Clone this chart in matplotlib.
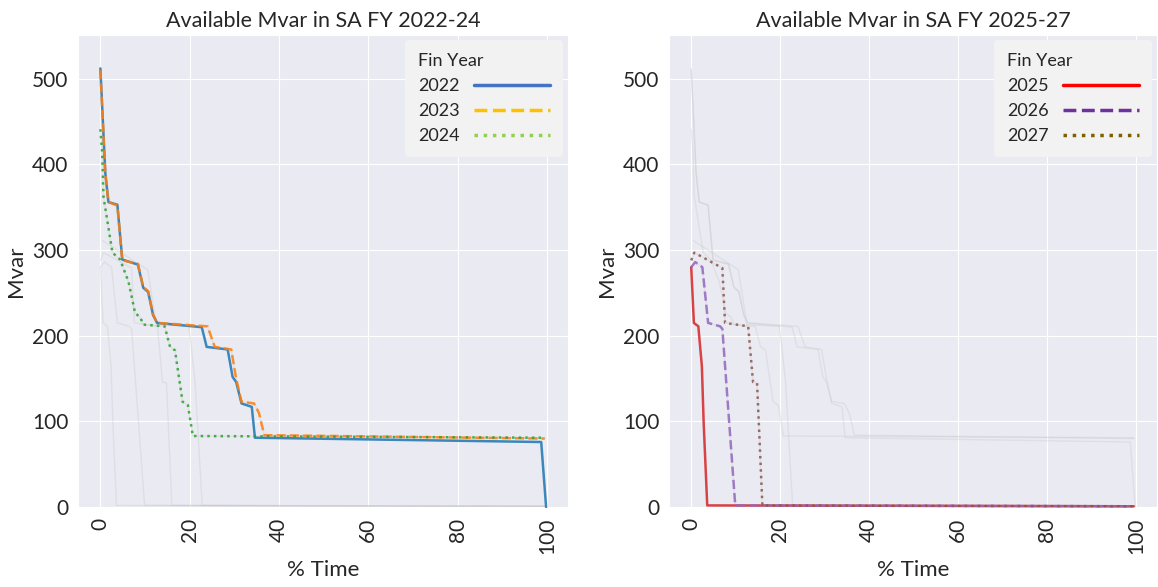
import matplotlib.pyplot as plt
import seaborn as sns
from matplotlib.lines import Line2D

# duration curves: % of time vs available Mvar, per financial year
pct_2022 = [0, 1.1, 1.8, 3.8, 4.9, 8.4, 9.6, 10.7, 11.8, 12.7, 22.7, 23.8, 28.5, 29.6, 30.4, 31.6, 33.9, 34.6, 98.7, 99.8]
mvar_2022 = [512, 390, 356, 353, 289, 283, 256, 251, 224, 215, 210, 187, 184, 152, 146, 121, 117, 81, 76, 0]

pct_2023 = [0, 1.1, 1.8, 3.8, 4.9, 8.4, 9.6, 10.7, 11.8, 12.7, 24.0, 25.6, 29.3, 30.4, 31.6, 34.4, 35.5, 36.7, 99.5]
mvar_2023 = [510, 390, 356, 352, 288, 284, 257, 252, 225, 215, 211, 187, 184, 150, 123, 121, 110, 84, 80]

pct_2024 = [0, 0.4, 0.7, 2.7, 4.4, 6.3, 7.8, 8.9, 9.6, 14.4, 15.6, 16.7, 18.4, 19.6, 20.7, 99.5]
mvar_2024 = [441, 413, 362, 297, 289, 263, 226, 222, 213, 211, 187, 183, 123, 119, 83, 81]

pct_2025 = [0, 0.6, 1.6, 2.4, 2.8, 3.6, 99.5]
mvar_2025 = [280, 215, 211, 164, 98, 2, 1]

pct_2026 = [0, 0.9, 2.5, 3.8, 6.5, 7.0, 9.9, 99.5]
mvar_2026 = [280, 286, 280, 215, 211, 208, 2, 1]

pct_2027 = [0, 0.7, 7.0, 7.6, 12.8, 13.9, 14.8, 16.0, 99.5]
mvar_2027 = [288, 297, 279, 215, 211, 146, 145, 2, 1]

# an extra year that only shows up as a faint background line
pct_other = [0.5, 10.6, 12.5, 19.8, 20.4, 21.2, 22.8, 99.5]
mvar_other = [311, 277, 213, 211, 185, 146, 2, 1]

years_a = ['2022', '2023', '2024']
years_b = ['2025', '2026', '2027']
styles = ['-', '--', ':']
colors_a = ['tab:blue', 'tab:orange', 'tab:green']
colors_b = ['tab:red', 'tab:purple', 'tab:brown']
legend_a = ['#4472C4', '#FFC000', '#92D050']
legend_b = ['#FF0000', '#7030A0', '#7F6000']

curves = {
    '2022': (pct_2022, mvar_2022),
    '2023': (pct_2023, mvar_2023),
    '2024': (pct_2024, mvar_2024),
    '2025': (pct_2025, mvar_2025),
    '2026': (pct_2026, mvar_2026),
    '2027': (pct_2027, mvar_2027),
    'other': (pct_other, mvar_other),
}

sns.set_style('darkgrid')
plt.rcParams['font.family'] = ['Lato', 'DejaVu Sans']

fig = plt.figure(figsize=(11.58, 5.87), dpi=100)
ax1 = fig.add_axes([0.0674, 0.1346, 0.4231, 0.8058])
ax2 = fig.add_axes([0.5777, 0.1346, 0.4214, 0.8058])

panels = [
    (ax1, years_a, colors_a, legend_a, 'Available Mvar in SA FY 2022-24'),
    (ax2, years_b, colors_b, legend_b, 'Available Mvar in SA FY 2025-27'),
]

for ax, years, cols, lcols, title in panels:
    for key, (px, py) in curves.items():
        ax.plot(px, py, color='#c8c8cc', lw=1, alpha=0.35, zorder=1)
    for yr, ls, c in zip(years, styles, cols):
        px, py = curves[yr]
        ax.plot(px, py, linestyle=ls, color=c, lw=1.8, alpha=0.85, zorder=3)

    handles = [Line2D([], [], color=lc, linestyle=ls, lw=2.5) for lc, ls in zip(lcols, styles)]
    leg = ax.legend(handles, years, title='Fin Year', loc='upper right', fontsize=13,
                    title_fontsize=13, handlelength=4.2, handletextpad=0.8,
                    labelspacing=0.5, borderpad=0.7, borderaxespad=0.3,
                    markerfirst=False, alignment='left', frameon=True)
    leg.get_frame().set_facecolor('#f2f2f2')
    leg.get_frame().set_edgecolor('none')
    leg.get_frame().set_alpha(1)

    ax.set_xlim(-5, 104.7)
    ax.set_ylim(-1, 551)
    ax.set_xticks([0, 20, 40, 60, 80, 100])
    ax.set_yticks([0, 100, 200, 300, 400, 500])
    ax.tick_params(axis='x', labelrotation=90, labelsize=15)
    ax.tick_params(axis='y', labelsize=15)
    ax.set_title(title, fontsize=15.5)
    ax.set_xlabel('% Time', fontsize=16)
    ax.set_ylabel('Mvar', fontsize=16)

plt.savefig('out.png', dpi=100)
